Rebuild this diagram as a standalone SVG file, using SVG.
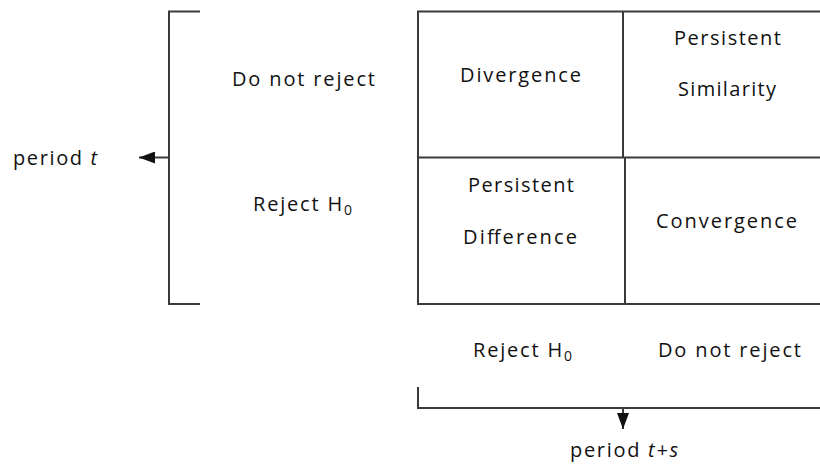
<svg xmlns="http://www.w3.org/2000/svg" width="820" height="464" viewBox="0 0 820 464">
<style>
.t{font-family:"Open Sans","DejaVu Sans",sans-serif;font-size:20px;font-weight:400;fill:#111}
.ln{stroke:#3a3a3a;stroke-width:2;fill:none}
</style>
<defs>
<marker id="ah" viewBox="0 0 16 12" refX="16" refY="6" markerWidth="16" markerHeight="12" markerUnits="userSpaceOnUse" orient="auto">
<path d="M0,0 L16,6 L0,12 Z" fill="#111"/>
</marker>
</defs>
<rect width="820" height="464" fill="#fff"/>
<g id="grid">
<path class="ln" d="M822,11.5 H418 V304 H822"/>
<path class="ln" d="M418,157.5 H822"/>
<path class="ln" d="M623,11.5 V157.5"/>
<path class="ln" d="M625,157.5 V304"/>
</g>
<g id="cell-divergence"><text class="t" x="460" y="82" textLength="121" lengthAdjust="spacing">Divergence</text></g>
<g id="cell-persistent-similarity">
<text class="t" x="674" y="45" textLength="107" lengthAdjust="spacing">Persistent</text>
<text class="t" x="678" y="96" textLength="98" lengthAdjust="spacing">Similarity</text>
</g>
<g id="cell-persistent-difference">
<text class="t" x="468" y="192" textLength="106" lengthAdjust="spacing">Persistent</text>
<text class="t" x="463" y="244" textLength="114" lengthAdjust="spacing">Difference</text>
</g>
<g id="cell-convergence"><text class="t" x="656" y="228" textLength="141" lengthAdjust="spacing">Convergence</text></g>
<g id="row-labels">
<text class="t" x="232" y="86" textLength="143" lengthAdjust="spacing">Do not reject</text>
<text class="t" x="253" y="211" textLength="99" lengthAdjust="spacing">Reject H<tspan font-size="14" dy="4">0</tspan></text>
</g>
<g id="col-labels">
<text class="t" x="473" y="357" textLength="99" lengthAdjust="spacing">Reject H<tspan font-size="14" dy="4">0</tspan></text>
<text class="t" x="658" y="357" textLength="143" lengthAdjust="spacing">Do not reject</text>
</g>
<g id="period-t"><text class="t" x="13" y="165" textLength="84" lengthAdjust="spacing">period <tspan font-style="italic">t</tspan></text></g>
<g id="period-ts"><text class="t" x="570" y="457" textLength="108" lengthAdjust="spacing">period <tspan font-style="italic">t+s</tspan></text></g>
<g id="connectors">
<path class="ln" d="M200,11.5 H169 V304 H200"/>
<path class="ln" d="M169,157.5 H139" marker-end="url(#ah)"/>
<path class="ln" d="M418,387 V408 H822"/>
<path class="ln" d="M623,408 V429" marker-end="url(#ah)"/>
</g>
</svg>
